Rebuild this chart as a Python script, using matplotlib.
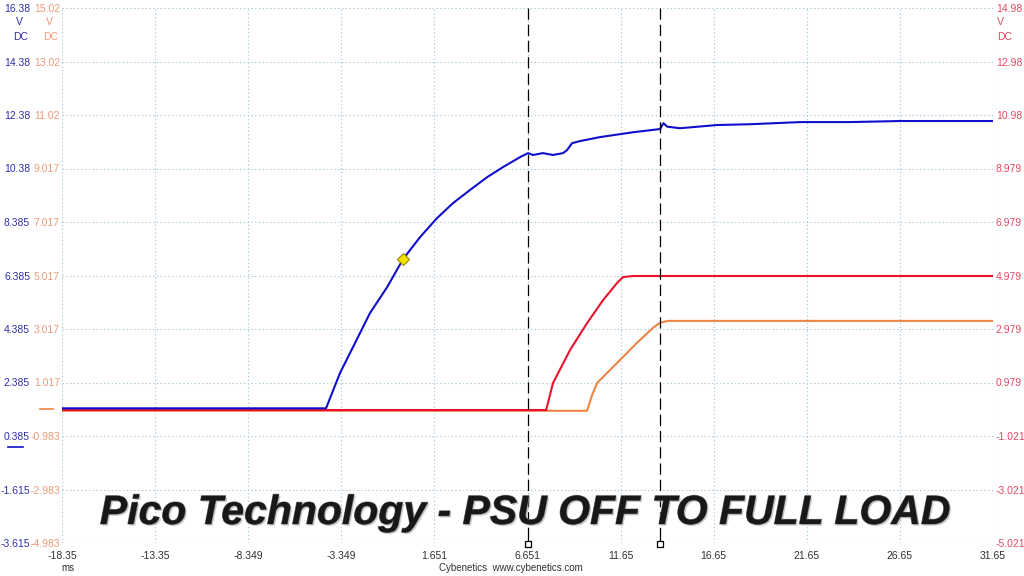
import matplotlib
matplotlib.use('Agg')
import matplotlib.pyplot as plt
import matplotlib.transforms as mtransforms
import matplotlib.patheffects as pe
from matplotlib.lines import Line2D

plt.rcParams['font.family'] = ['Liberation Sans', 'DejaVu Sans']

# --- data (ms, volts) ---
blue_t = [-18.35, -4.17, -3.42, -2.72, -1.81, -0.89, -0.03, 0.88, 1.79, 2.65, 3.56,
          4.48, 5.34, 6.25, 6.68, 6.95, 7.48, 8.02, 8.56, 8.77, 9.04, 9.47, 10.55,
          12.32, 13.77, 13.95, 14.15, 14.84, 16.83, 18.60, 21.29, 23.97, 26.66, 31.65]
blue_v = [1.42, 1.42, 2.74, 3.71, 4.98, 5.95, 7.00, 7.82, 8.53, 9.09, 9.58,
          10.06, 10.44, 10.81, 10.96, 10.89, 10.96, 10.89, 10.96, 11.07, 11.33, 11.41, 11.56,
          11.74, 11.86, 12.08, 11.95, 11.89, 12.01, 12.04, 12.12, 12.12, 12.16, 12.16]

red_t = [-18.35, 7.65, 8.02, 8.94, 9.85, 10.71, 11.46, 11.78, 12.3, 31.65]
red_v = [-0.05, -0.05, 0.96, 2.20, 3.20, 4.06, 4.70, 4.92, 4.96, 4.96]

orange_t = [-18.35, 9.85, 10.12, 10.39, 11.62, 12.53, 13.39, 13.77, 14.2, 31.65]
orange_v = [-0.04, -0.04, 0.55, 1.00, 1.86, 2.50, 3.06, 3.25, 3.32, 3.32]

trigger_t, trigger_v = -0.03, 7.00
cursor_t = [6.651, 13.77]

x_ticks = [-18.35, -13.35, -8.349, -3.349, 1.651, 6.651, 11.65, 16.65, 21.65, 26.65, 31.65]
x_labels = ['-18.35', '-13.35', '-8.349', '-3.349', '1.651', '6.651', '11.65', '16.65',
            '21.65', '26.65', '31.65']
blue_labels = ['-3.615', '-1.615', '0.385', '2.385', '4.385', '6.385', '8.385',
               '10.38', '12.38', '14.38', '16.38']
orange_labels = ['-4.983', '-2.983', '-0.983', '1.017', '3.017', '5.017', '7.017',
                 '9.017', '11.02', '13.02', '15.02']
red_labels = ['-5.021', '-3.021', '-1.021', '0.979', '2.979', '4.979', '6.979',
              '8.979', '10.98', '12.98', '14.98']

BLUE = '#1010cc'
RED = '#e8122c'
ORANGE = '#f08444'
BLUE_TXT = '#3030a8'
ORANGE_TXT = '#ec9a78'
RED_TXT = '#e04a62'
GRID = '#a9c9dc'

fig = plt.figure(figsize=(10.24, 5.76), dpi=100)
ax = fig.add_axes([62 / 1024, 33 / 576, 931 / 1024, 535 / 576])
ax_o = ax.twinx()
ax_r = ax.twinx()

b0 = -3.615
o0 = -4.983
r0 = -5.021
ax.set_ylim(b0, b0 + 20)
ax_o.set_ylim(o0, o0 + 20)
ax_r.set_ylim(r0, r0 + 20)
ax.set_xlim(x_ticks[0], x_ticks[-1])

ax.set_yticks([b0 + 2 * i for i in range(11)])
ax.set_yticklabels(blue_labels)
ax_o.set_yticks([o0 + 2 * i for i in range(11)])
ax_o.set_yticklabels(orange_labels)
ax_o.yaxis.tick_left()
ax_r.set_yticks([r0 + 2 * i for i in range(11)])
ax_r.set_yticklabels(red_labels)
ax.set_xticks(x_ticks)
ax.set_xticklabels(x_labels)

for a in (ax, ax_o, ax_r):
    for s in a.spines.values():
        s.set_visible(False)
ax.tick_params(axis='y', length=0, pad=23, labelsize=7.5, labelcolor=BLUE_TXT)
ax_o.tick_params(axis='y', length=0, pad=1.5, labelsize=7.5, labelcolor=ORANGE_TXT)
ax_r.tick_params(axis='y', length=0, pad=2, labelsize=7.5, labelcolor=RED_TXT)
ax.tick_params(axis='x', length=0, pad=6, labelsize=7.5, labelcolor='#303030')

ax.grid(True, color=GRID, linestyle=(0, (1.2, 2.2)), linewidth=0.8)
ax.set_axisbelow(True)

# traces (orange, red under blue)
ax_o.plot(orange_t, orange_v, color=ORANGE, lw=1.5, zorder=2)
ax_r.plot(red_t, red_v, color=RED, lw=1.5, zorder=3)
ax_r.plot(blue_t, [v + (r0 - b0) for v in blue_v], color=BLUE, lw=1.5, zorder=4)
ax_r.plot([trigger_t], [trigger_v + (r0 - b0)], marker='D', ms=6, color='#f2e400',
          mec='#9a8a00', mew=0.8, zorder=5)

# cursors
trans = mtransforms.blended_transform_factory(ax_r.transData, ax_r.transAxes)
for c in cursor_t:
    ax_r.plot([c, c], [1.0, 0.028], transform=trans, color='k', lw=0.9,
              linestyle=(0, (9, 4)), zorder=6, clip_on=False)
    ax_r.plot([c, c], [0.004, 0.028], transform=trans, color='k', lw=0.9, zorder=6)
    ax_r.plot([c], [-0.002], transform=trans, marker='s', ms=4.5, mfc='white',
              mec='k', mew=0.9, clip_on=False, zorder=7)

# zero markers on the left
fig.add_artist(Line2D([40 / 1024, 53 / 1024], [1 - 409 / 576] * 2, color=ORANGE, lw=1.2))
fig.add_artist(Line2D([8 / 1024, 23 / 1024], [1 - 447 / 576] * 2, color=BLUE, lw=1.2))

# unit labels
def px(x, y):
    return x / 1024, 1 - y / 576

for (x, y), s, c in [((19, 22), 'V', BLUE_TXT), ((21, 37), 'DC', BLUE_TXT),
                     ((49, 22), 'V', ORANGE_TXT), ((51, 37), 'DC', ORANGE_TXT)]:
    fig.text(*px(x, y), s, color=c, fontsize=7.5, ha='center', va='center')
fig.text(*px(997, 22), 'V', color=RED_TXT, fontsize=7.5, ha='left', va='center')
fig.text(*px(997, 37), 'DC', color=RED_TXT, fontsize=7.5, ha='left', va='center')

fig.text(*px(68, 568), 'ms', fontsize=7, color='#303030', ha='center', va='center')
fig.text(*px(511, 568), 'Cybenetics  www.cybenetics.com', fontsize=7, color='#303030',
         ha='center', va='center')

fig.text(*px(525, 524), 'Pico Technology - PSU OFF TO FULL LOAD', fontsize=29.5,
         fontweight='bold', fontstyle='italic', color='#181818', ha='center',
         va='baseline', zorder=10,
         path_effects=[pe.withSimplePatchShadow(offset=(1.2, -1.2), shadow_rgbFace='#999999',
                                                alpha=0.5),
                       pe.Stroke(linewidth=0.8, foreground='#808080'), pe.Normal()])

fig.savefig('out.png', dpi=100)
